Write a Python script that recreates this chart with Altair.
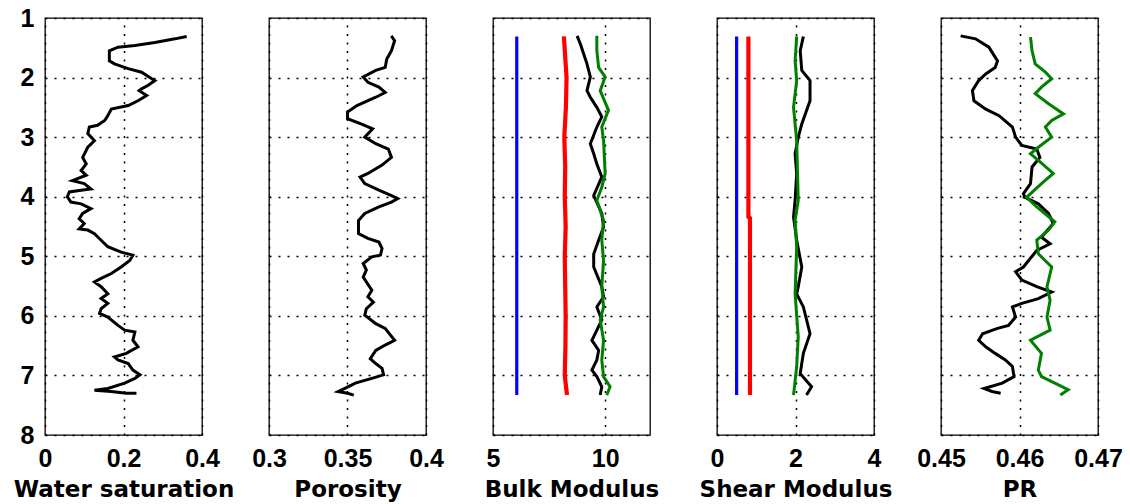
import altair as alt
import pandas as pd

# ---- Water saturation ----
sw_depth = [1.31, 1.35, 1.41, 1.46, 1.49, 1.55, 1.72, 1.77, 1.85, 1.91, 2.02, 2.05, 2.13, 2.19, 2.22,
            2.30, 2.39, 2.47, 2.53, 2.64, 2.72, 2.80, 2.83, 2.94, 3.06, 3.17, 3.34, 3.45, 3.56, 3.64,
            3.73, 3.78, 3.87, 3.89, 3.92, 4.00, 4.09, 4.12, 4.20, 4.28, 4.37, 4.45, 4.54, 4.56, 4.62,
            4.73, 4.84, 4.93, 4.98, 5.07, 5.18, 5.29, 5.37, 5.43, 5.51, 5.63, 5.71, 5.79, 5.88, 5.96,
            6.02, 6.16, 6.24, 6.27, 6.41, 6.52, 6.63, 6.69, 6.74, 6.80, 6.91, 6.99, 7.05, 7.13, 7.22,
            7.25, 7.27, 7.30, 7.30]
sw_value = [0.361, 0.331, 0.280, 0.229, 0.186, 0.164, 0.164, 0.177, 0.212, 0.246, 0.272, 0.280, 0.263, 0.246, 0.240,
            0.259, 0.237, 0.212, 0.169, 0.160, 0.152, 0.134, 0.113, 0.109, 0.126, 0.109, 0.096, 0.105, 0.092, 0.105,
            0.070, 0.100, 0.117, 0.092, 0.062, 0.057, 0.066, 0.092, 0.117, 0.096, 0.087, 0.100, 0.087, 0.109, 0.126,
            0.143, 0.160, 0.194, 0.224, 0.216, 0.194, 0.169, 0.143, 0.126, 0.143, 0.160, 0.143, 0.160, 0.143, 0.139,
            0.160, 0.186, 0.203, 0.229, 0.224, 0.237, 0.207, 0.177, 0.186, 0.212, 0.224, 0.242, 0.229, 0.203, 0.160,
            0.126, 0.169, 0.207, 0.233]

# ---- Porosity ----
phi_depth = [1.30, 1.38, 1.55, 1.69, 1.83, 1.88, 1.99, 2.08, 2.16, 2.25, 2.33, 2.47, 2.58, 2.69, 2.78,
             2.86, 3.00, 3.11, 3.20, 3.34, 3.47, 3.61, 3.67, 3.78, 3.89, 3.98, 4.03, 4.09, 4.17, 4.28,
             4.40, 4.62, 4.70, 4.76, 4.87, 4.98, 5.01, 5.12, 5.23, 5.35, 5.57, 5.68, 5.77, 5.88, 5.99,
             6.13, 6.21, 6.41, 6.49, 6.58, 6.72, 6.80, 6.88, 6.99, 7.05, 7.13, 7.22, 7.27, 7.30, 7.33]
phi_value = [0.3779, 0.3800, 0.3780, 0.3750, 0.3740, 0.3680, 0.3600, 0.3630, 0.3700, 0.3740, 0.3680, 0.3560, 0.3500, 0.3500, 0.3590,
             0.3660, 0.3610, 0.3680, 0.3760, 0.3780, 0.3720, 0.3630, 0.3580, 0.3610, 0.3700, 0.3780, 0.3820, 0.3780, 0.3700, 0.3610,
             0.3570, 0.3570, 0.3630, 0.3700, 0.3720, 0.3710, 0.3655, 0.3600, 0.3620, 0.3600, 0.3655, 0.3630, 0.3665, 0.3620, 0.3610,
             0.3680, 0.3740, 0.3800, 0.3740, 0.3680, 0.3645, 0.3680, 0.3720, 0.3730, 0.3655, 0.3550, 0.3480, 0.3440, 0.3500, 0.3540]

# ---- Bulk modulus ----
k_blue_depth = [1.31, 7.33]
k_blue_value = [6.06, 6.06]
k_red_depth = [1.31, 2.00, 2.50, 3.00, 3.50, 4.00, 4.50, 5.00, 5.50, 6.00, 6.50, 7.00, 7.33]
k_red_value = [8.16, 8.28, 8.25, 8.18, 8.22, 8.20, 8.24, 8.20, 8.22, 8.24, 8.23, 8.20, 8.30]
k_black_depth = [1.30, 1.44, 1.60, 1.77, 1.99, 2.22, 2.33, 2.50, 2.66, 2.83, 3.11, 3.28, 3.45, 3.67, 3.98,
                 4.28, 4.51, 4.73, 4.96, 5.18, 5.51, 5.68, 5.85, 6.07, 6.24, 6.41, 6.58, 6.74, 6.91, 7.02,
                 7.19, 7.33]
k_black_value = [8.75, 8.90, 9.04, 9.19, 9.34, 9.19, 9.34, 9.63, 9.85, 9.63, 9.34, 9.49, 9.63, 9.85, 9.49,
                 9.85, 9.93, 9.71, 9.49, 9.49, 9.85, 9.93, 9.63, 9.85, 9.63, 9.41, 9.71, 9.63, 9.41, 9.63,
                 9.85, 9.78]
k_green_depth = [1.30, 1.55, 1.83, 1.99, 2.22, 2.55, 2.83, 3.06, 3.61, 3.84, 4.06, 4.40, 4.73, 5.07, 5.51,
                 5.85, 6.07, 6.41, 6.74, 7.02, 7.19, 7.33]
k_green_value = [9.63, 9.63, 9.71, 10.00, 9.78, 10.15, 9.85, 9.93, 10.00, 9.85, 9.63, 9.93, 9.85, 9.93, 9.85,
                 9.93, 9.78, 9.93, 9.85, 9.93, 10.22, 10.07]

# ---- Shear modulus ----
g_blue_depth = [1.31, 7.33]
g_blue_value = [0.50, 0.50]
g_red_depth = [1.31, 4.34, 4.36, 7.33]
g_red_value = [0.80, 0.80, 0.84, 0.84]
g_black_depth = [1.31, 1.55, 1.88, 2.05, 2.39, 2.78, 3.00, 3.28, 3.61, 4.06, 4.34, 4.73, 5.18, 5.51, 5.63,
                 5.85, 6.30, 6.63, 6.97, 7.19, 7.33]
g_black_value = [2.20, 2.12, 2.16, 2.37, 2.37, 2.16, 2.07, 1.99, 2.03, 1.99, 1.95, 2.03, 2.16, 2.07, 2.03,
                 2.20, 2.37, 2.20, 2.12, 2.41, 2.28]
g_green_depth = [1.31, 1.72, 2.05, 2.50, 3.06, 4.06, 4.40, 4.84, 5.63, 6.35, 6.85, 7.33]
g_green_value = [2.03, 1.99, 2.03, 1.95, 2.03, 2.07, 1.99, 2.03, 1.99, 2.07, 2.03, 1.95]

# ---- Poisson's ratio ----
pr_black_depth = [1.30, 1.35, 1.49, 1.72, 1.83, 1.94, 2.05, 2.22, 2.39, 2.53, 2.64, 2.83, 3.00, 3.14, 3.20,
                  3.34, 3.50, 3.78, 3.95, 4.01, 4.12, 4.28, 4.45, 4.68, 4.79, 4.90, 5.18, 5.26, 5.40, 5.51,
                  5.60, 5.71, 5.79, 5.85, 6.02, 6.16, 6.21, 6.30, 6.41, 6.52, 6.63, 6.74, 6.85, 7.02, 7.13,
                  7.22, 7.27, 7.30]
pr_black_value = [0.4525, 0.4544, 0.4561, 0.4572, 0.4569, 0.4557, 0.4548, 0.4540, 0.4542, 0.4557, 0.4574, 0.4591, 0.4595, 0.4603, 0.4622,
                  0.4626, 0.4616, 0.4614, 0.4605, 0.4607, 0.4624, 0.4637, 0.4643, 0.4628, 0.4639, 0.4622, 0.4605, 0.4595, 0.4603, 0.4622,
                  0.4641, 0.4624, 0.4603, 0.4591, 0.4595, 0.4586, 0.4572, 0.4553, 0.4548, 0.4557, 0.4569, 0.4582, 0.4591, 0.4593, 0.4578,
                  0.4555, 0.4565, 0.4576]
pr_green_depth = [1.32, 1.55, 1.77, 1.91, 2.02, 2.16, 2.27, 2.44, 2.61, 2.72, 2.83, 3.00, 3.17, 3.28, 3.39,
                  3.61, 3.78, 4.01, 4.17, 4.42, 4.56, 4.73, 4.96, 5.18, 5.51, 5.74, 6.02, 6.24, 6.41, 6.63,
                  6.91, 7.02, 7.13, 7.24, 7.33]
pr_green_value = [0.4614, 0.4616, 0.4620, 0.4633, 0.4641, 0.4628, 0.4620, 0.4637, 0.4656, 0.4641, 0.4633, 0.4641, 0.4624, 0.4614, 0.4624,
                  0.4643, 0.4628, 0.4609, 0.4622, 0.4645, 0.4637, 0.4622, 0.4624, 0.4641, 0.4635, 0.4639, 0.4635, 0.4639, 0.4614, 0.4628,
                  0.4624, 0.4628, 0.4645, 0.4662, 0.4652]

depth_ticks = [1, 2, 3, 4, 5, 6, 7, 8]

PANEL_W = 157
PANEL_H = 417


def curve(depth, value, color, width):
    df = pd.DataFrame({"i": range(len(depth)), "depth": depth, "value": value})
    return alt.Chart(df).mark_line(color=color, strokeWidth=width).encode(
        x=alt.X("value:Q"),
        y=alt.Y("depth:Q"),
        order=alt.Order("i:Q"),
    )


def panel(layers, title, domain, ticks, first=False):
    x_enc = alt.X(
        "value:Q",
        scale=alt.Scale(domain=domain, nice=False, zero=False),
        axis=alt.Axis(
            title=title,
            values=ticks,
            format=".2~f",
            labelFlush=False,
            labelOverlap=False,
            labelBaseline="alphabetic",
            labelPadding=31,
            titleBaseline="alphabetic",
            titleY=61,
            gridDash=[2, 6.5],
        ),
    )
    y_axis = alt.Axis(
        title=None,
        values=depth_ticks,
        format="d",
        labels=first,
        labelFlush=False,
        labelPadding=11,
        gridDash=[2, 7],
    )
    y_enc = alt.Y("depth:Q", scale=alt.Scale(domain=[1, 8], reverse=True, nice=False, zero=False), axis=y_axis)
    enc_layers = [l.encode(x=x_enc, y=y_enc) for l in layers]
    return alt.layer(*enc_layers).properties(width=PANEL_W, height=PANEL_H)


p1 = panel([curve(sw_depth, sw_value, "black", 3)], "Water saturation", [0, 0.4], [0, 0.2, 0.4], first=True)
p2 = panel([curve(phi_depth, phi_value, "black", 3)], "Porosity", [0.3, 0.4], [0.3, 0.35, 0.4])
p3 = panel([
    curve(k_blue_depth, k_blue_value, "#0000ff", 3.2),
    curve(k_red_depth, k_red_value, "#ff0000", 4.2),
    curve(k_black_depth, k_black_value, "black", 3),
    curve(k_green_depth, k_green_value, "#008000", 3),
], "Bulk Modulus", [5, 12], [5, 10])
p4 = panel([
    curve(g_blue_depth, g_blue_value, "#0000ff", 3.2),
    curve(g_red_depth, g_red_value, "#ff0000", 4.2),
    curve(g_black_depth, g_black_value, "black", 3),
    curve(g_green_depth, g_green_value, "#008000", 3),
], "Shear Modulus", [0, 4], [0, 2, 4])
p5 = panel([
    curve(pr_black_depth, pr_black_value, "black", 3),
    curve(pr_green_depth, pr_green_value, "#008000", 3),
], "PR", [0.45, 0.47], [0.45, 0.46, 0.47])

chart = alt.hconcat(p1, p2, p3, p4, p5, spacing=67, bounds="flush").properties(
    padding={"left": 12, "top": 5, "right": 5, "bottom": 5},
    background="white",
).configure_view(
    stroke="black", strokeWidth=1.3
).configure_axis(
    domain=False,
    ticks=False,
    tickSize=0,
    grid=True,
    gridColor="black",
    gridWidth=1.5,
    gridOpacity=1,
    labelFont="Liberation Sans",
    labelFontWeight="bold",
    labelFontSize=25,
    labelColor="black",
    titleFont="DejaVu Sans",
    titleFontWeight="bold",
    titleFontSize=23,
    titleColor="black",
)

chart.save("out.html", embed_options={"renderer": "svg", "actions": False})
